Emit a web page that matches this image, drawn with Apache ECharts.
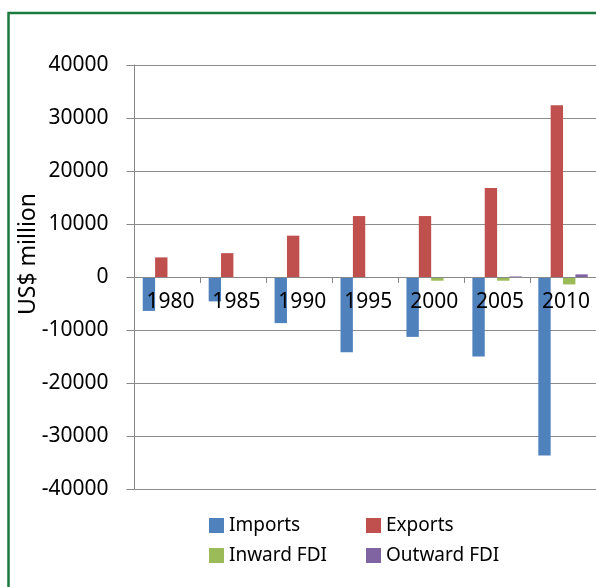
<!DOCTYPE html>
<html>
<head>
<meta charset="utf-8">
<script src="https://cdn.jsdelivr.net/npm/echarts@6/dist/echarts.min.js"></script>
<style>
html,body{margin:0;padding:0;background:#fff;}
#chart{width:596px;height:587px;}
</style>
</head>
<body>
<div id="chart"></div>
<script>
var categories = ['1980','1985','1990','1995','2000','2005','2010'];
var imports = [-6400, -4600, -8700, -14200, -11300, -15000, -33700];
var exports = [3700, 4500, 7800, 11500, 11500, 16800, 32400];
var inwardFDI = [0, 0, 0, 0, -700, -700, -1400];
var outwardFDI = [0, 0, 0, 0, 0, 100, 500];
var yTicks = {min: -40000, max: 40000, interval: 10000};

var FONT = '"Noto Sans", "Open Sans", sans-serif';
var chart = echarts.init(document.getElementById('chart'));
chart.setOption({
  animation: false,
  backgroundColor: '#ffffff',
  graphic: [
    {type: 'rect', shape: {x: 8.5, y: 13, width: 700, height: 700},
     style: {fill: 'none', stroke: '#1b7a3e', lineWidth: 2.5}},
    {type: 'text', x: 28, y: 254, rotation: Math.PI / 2,
     style: {text: 'US$ million', fontSize: 23, fontFamily: FONT, fill: '#000',
             textAlign: 'center', textVerticalAlign: 'middle'}}
  ],
  legend: [
    {data: ['Imports', 'Inward FDI'], orient: 'vertical', left: 204, top: 511,
     itemWidth: 15, itemHeight: 15, itemGap: 11, icon: 'rect',
     textStyle: {fontSize: 19, fontFamily: FONT, color: '#000'}},
    {data: ['Exports', 'Outward FDI'], orient: 'vertical', left: 361, top: 511,
     itemWidth: 15, itemHeight: 15, itemGap: 11, icon: 'rect',
     textStyle: {fontSize: 19, fontFamily: FONT, color: '#000'}}
  ],
  grid: {left: 134.5, top: 65, width: 465, height: 424, containLabel: false},
  xAxis: {
    type: 'category', data: categories, z: 5, position: 'bottom', offset: -212,
    axisLine: {onZero: false, lineStyle: {color: '#888888', width: 1}},
    axisTick: {show: true, length: 6, lineStyle: {color: '#888888'}},
    axisLabel: {fontSize: 21, fontFamily: FONT, color: '#000', margin: 15,
                padding: [0, 0, 0, 6]},
    splitLine: {show: false}
  },
  yAxis: {
    type: 'value', min: yTicks.min, max: yTicks.max, interval: yTicks.interval,
    axisLine: {show: true, lineStyle: {color: '#888888'}},
    axisTick: {show: true, length: 8, lineStyle: {color: '#888888'}},
    axisLabel: {fontSize: 21, fontFamily: FONT, color: '#000', margin: 26,
                formatter: function (v) { return String(v); }},
    splitLine: {show: true, lineStyle: {color: '#8c8c8c', width: 1}}
  },
  series: [
    {name: 'Imports', type: 'bar', data: imports, barGap: '0%', barCategoryGap: '25%',
     itemStyle: {color: '#4F81BD'}},
    {name: 'Exports', type: 'bar', data: exports, barGap: '0%', barCategoryGap: '25%',
     itemStyle: {color: '#C0504D'}},
    {name: 'Inward FDI', type: 'bar', data: inwardFDI, barGap: '0%', barCategoryGap: '25%',
     itemStyle: {color: '#9BBB59'}},
    {name: 'Outward FDI', type: 'bar', data: outwardFDI, barGap: '0%', barCategoryGap: '25%',
     itemStyle: {color: '#8064A2'}}
  ]
});
</script>
</body>
</html>
